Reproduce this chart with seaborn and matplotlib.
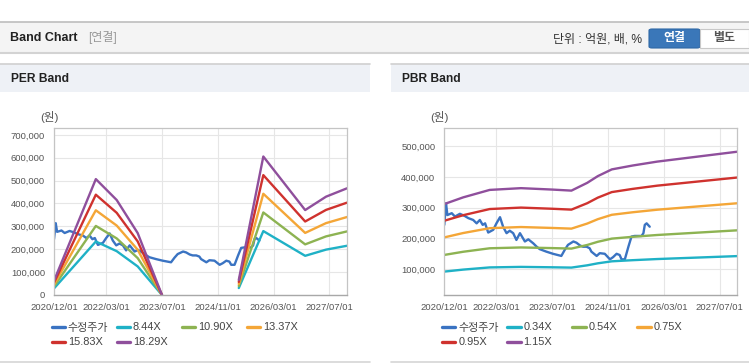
import matplotlib
matplotlib.use("Agg")
import numpy as np
import pandas as pd
import matplotlib.pyplot as plt
import matplotlib.dates as mdates
from matplotlib.ticker import FuncFormatter
from matplotlib.patches import Rectangle, FancyBboxPatch
import seaborn as sns

# ---------------- data ----------------
price_label = "수정주가"
price_dates = ["2020-12-01", "2020-12-16", "2020-12-28", "2021-02-04", "2021-03-04", "2021-04-16",
               "2021-05-28", "2021-06-28", "2021-08-10", "2021-09-09", "2021-10-07", "2021-11-01",
               "2021-11-22", "2021-12-19", "2022-02-01", "2022-03-01", "2022-04-01", "2022-04-28",
               "2022-05-28", "2022-06-25", "2022-07-25", "2022-08-22", "2022-09-22", "2022-11-04",
               "2022-12-04", "2023-01-16", "2023-02-15", "2023-03-14", "2023-05-10", "2023-07-07",
               "2023-09-18", "2023-10-18", "2023-11-15", "2024-01-01", "2024-01-28", "2024-02-28",
               "2024-03-25", "2024-04-25", "2024-05-22", "2024-06-06", "2024-07-22", "2024-08-18",
               "2024-10-01", "2024-11-15", "2024-12-12", "2025-01-12", "2025-02-08", "2025-02-24",
               "2025-03-25", "2025-04-25", "2025-05-22", "2025-06-18", "2025-08-18", "2025-09-03",
               "2025-09-15", "2025-10-01", "2025-10-28"]
price_values = [244000, 314000, 276000, 282000, 271000, 280000,
                273000, 266000, 260000, 249000, 260000, 244000,
                249000, 219000, 228000, 249000, 269000, 238000,
                217000, 225000, 217000, 195000, 217000, 190000,
                197000, 184000, 173000, 165000, 157000, 150000,
                143000, 163000, 179000, 190000, 186000, 177000,
                173000, 173000, 168000, 157000, 143000, 152000,
                150000, 132000, 139000, 150000, 146000, 132000,
                132000, 173000, 206000, 208000, 208000, 217000,
                244000, 249000, 238000]

# PER band (segment 1 ends at 2023-07, segment 2 starts 2025-05)
per_dates = ["2020-12-01", "2021-12-01", "2022-06-01", "2022-12-01", "2023-07-01",
             "2025-05-01", "2025-12-01", "2026-12-01", "2027-06-01", "2027-12-01"]
per_segments = [1, 1, 1, 1, 1, 2, 2, 2, 2, 2]
per_labels = ["8.44X", "10.90X", "13.37X", "15.83X", "18.29X"]
per_8_44 = [28700, 233800, 191600, 124900, 0, 30400, 279400, 171300, 198300, 215200]
per_10_90 = [37100, 301900, 247400, 161300, 0, 39200, 360800, 221300, 256200, 278000]
per_13_37 = [45500, 370300, 303500, 197900, 0, 48100, 442500, 271400, 314200, 340900]
per_15_83 = [53800, 438500, 359300, 234300, 0, 57000, 524000, 321300, 372000, 403700]
per_18_29 = [62200, 506600, 415200, 270700, 0, 65800, 605400, 371300, 429800, 466400]

# PBR band
pbr_dates = ["2020-12-01", "2021-05-15", "2022-01-01", "2022-10-01", "2023-07-01", "2023-12-15",
             "2024-05-01", "2024-08-01", "2024-12-01", "2025-06-01", "2026-01-01", "2027-12-01"]
pbr_labels = ["0.34X", "0.54X", "0.75X", "0.95X", "1.15X"]
pbr_0_34 = [92100, 98600, 105700, 107400, 106100, 105100, 112500, 119000, 125500, 129200, 132900, 142500]
pbr_0_54 = [146300, 156600, 167900, 170600, 168500, 166900, 178700, 189000, 199300, 205200, 211100, 226300]
pbr_0_75 = [203300, 217500, 233300, 237000, 234000, 231800, 248300, 262500, 276800, 285000, 293300, 314300]
pbr_0_95 = [257500, 275500, 295500, 300200, 296400, 293600, 314500, 332500, 350600, 361000, 371500, 398000]
pbr_1_15 = [311700, 333500, 357700, 363400, 358800, 355400, 380700, 402500, 424400, 437000, 449700, 481900]

x_ticks = ["2020-12-01", "2022-03-01", "2023-07-01", "2024-11-01", "2026-03-01", "2027-07-01"]
series_colors = ["#3a73c2", "#1fb1c6", "#8db352", "#f4a637", "#cf322e", "#8f4f9c"]

# ---------------- styling ----------------
sns.set_style("white")
plt.rcParams["font.family"] = ["Liberation Sans", "Noto Sans CJK KR"]

W, H = 749, 364
fig = plt.figure(figsize=(W / 100, H / 100), dpi=100)
fig.patch.set_facecolor("white")


def fx(px):
    return px / W


def fy(py):
    return 1 - py / H


def pt(px):
    return px * 0.72


# header bar
fig.patches.append(Rectangle((0, fy(52)), 1, (52 - 22) / H, transform=fig.transFigure,
                             facecolor="#f4f4f4", edgecolor="none", zorder=0))
fig.lines.append(plt.Line2D([0, 1], [fy(22), fy(22)], transform=fig.transFigure, color="#bdbdbd", lw=1.2))
fig.lines.append(plt.Line2D([0, 1], [fy(52.5), fy(52.5)], transform=fig.transFigure, color="#d3d3d3", lw=1.5))
fig.text(fx(10), fy(38), "Band Chart", fontsize=pt(12.5), fontweight="bold", color="#222222", va="center")
fig.text(fx(88), fy(38), "[연결]", fontsize=pt(12), color="#999999", va="center")
fig.text(fx(642), fy(40), "단위 : 억원, 배, %", fontsize=pt(12), color="#333333", va="center", ha="right")
fig.patches.append(FancyBboxPatch((fx(649), fy(48)), (700 - 649) / W, (48 - 29) / H,
                                  boxstyle="round,pad=0,rounding_size=0.004", transform=fig.transFigure,
                                  facecolor="#3a77b9", edgecolor="#2f68a6", lw=0.8))
fig.patches.append(Rectangle((fx(700), fy(48)), (749 - 700) / W, (48 - 29) / H, transform=fig.transFigure,
                             facecolor="white", edgecolor="#c8c8c8", lw=0.8))
fig.text(fx(674.5), fy(38.5), "연결", fontsize=pt(12), fontweight="bold", color="white", ha="center", va="center")
fig.text(fx(724), fy(38.5), "별도", fontsize=pt(12), fontweight="bold", color="#555555", ha="center", va="center")

# panel headers
for x0, x1, title in [(0, 370, "PER Band"), (391, 749, "PBR Band")]:
    fig.patches.append(Rectangle((fx(x0), fy(92)), (x1 - x0) / W, (92 - 64) / H, transform=fig.transFigure,
                                 facecolor="#eef1f6", edgecolor="none"))
    fig.lines.append(plt.Line2D([fx(x0), fx(x1)], [fy(64), fy(64)], transform=fig.transFigure,
                                color="#d0d0d0", lw=1.2))
    fig.lines.append(plt.Line2D([fx(x0), fx(x1)], [fy(362), fy(362)], transform=fig.transFigure,
                                color="#d6d6d6", lw=1.2))
    fig.text(fx(x0 + 11), fy(79), title, fontsize=pt(12), fontweight="bold", color="#222222", va="center")


def long_frame(band_dates, segs, band_lists, labels):
    rows = []
    for d, v in zip(price_dates, price_values):
        rows.append((pd.Timestamp(d), v, price_label, 0))
    for lab, vals in zip(labels, band_lists):
        for d, s, v in zip(band_dates, segs, vals):
            rows.append((pd.Timestamp(d), v, lab, s))
    return pd.DataFrame(rows, columns=["date", "value", "series", "seg"])


per_df = long_frame(per_dates, per_segments, [per_8_44, per_10_90, per_13_37, per_15_83, per_18_29], per_labels)
pbr_df = long_frame(pbr_dates, [1] * len(pbr_dates), [pbr_0_34, pbr_0_54, pbr_0_75, pbr_0_95, pbr_1_15],
                    pbr_labels)

ax_h = (295 - 128) / H
ax_per = fig.add_axes([fx(54), fy(295), (347 - 54) / W, ax_h])
ax_pbr = fig.add_axes([fx(444.3), fy(295), (737.3 - 444.3) / W, ax_h])

configs = [
    (ax_per, per_df, [price_label] + per_labels, (0, 730000), np.arange(0, 700001, 100000), 54),
    (ax_pbr, pbr_df, [price_label] + pbr_labels, (16000, 559000), np.arange(100000, 500001, 100000), 444.3),
]

for ax, df, names, ylim, yticks, left_px in configs:
    pal = dict(zip(names, series_colors))
    sns.lineplot(data=df, x="date", y="value", hue="series", units="seg", estimator=None,
                 hue_order=names, palette=pal, linewidth=1.7, ax=ax)
    handles, labels = ax.get_legend_handles_labels()
    if ax.get_legend() is not None:
        ax.get_legend().remove()
    ax.set_xlim(pd.Timestamp("2020-12-01"), pd.Timestamp("2027-12-01"))
    ax.set_ylim(*ylim)
    ax.set_yticks(yticks)
    ax.yaxis.set_major_formatter(FuncFormatter(lambda v, _: f"{int(round(v)):,}"))
    ax.set_xticks([pd.Timestamp(t) for t in x_ticks])
    ax.xaxis.set_major_formatter(mdates.DateFormatter("%Y/%m/%d"))
    ax.set_xlabel("")
    ax.set_ylabel("")
    ax.set_facecolor("white")
    ax.grid(True, color="#e6e6e6", lw=0.8)
    ax.set_axisbelow(True)
    for side in ["left", "top", "right"]:
        ax.spines[side].set_color("#c4c4c4")
        ax.spines[side].set_linewidth(0.9)
    ax.spines["bottom"].set_color("#a8a8a8")
    ax.spines["bottom"].set_linewidth(1.0)
    ax.tick_params(axis="both", length=4, width=0.8, color="#aaaaaa", labelsize=pt(9.5), labelcolor="#555555")
    ax.tick_params(axis="x", pad=1.5)
    ax.tick_params(axis="y", pad=2.4)

    # unit label
    fig.text(fx(left_px - 5), fy(117), "(원)", fontsize=pt(11.5), color="#555555", ha="center", va="center")

    # legend laid out as a 4-column grid (row-major)
    hmap = dict(zip(labels, handles))
    grid = [([names[0], names[4]], left_px - 2), ([names[1], names[5]], left_px + 63),
            ([names[2]], left_px + 128), ([names[3]], left_px + 193)]
    for col_names, xpx in grid:
        hs = [hmap[n] for n in col_names]
        leg = fig.legend(hs, col_names, loc="upper left", bbox_to_anchor=(fx(xpx), fy(322.5)),
                         bbox_transform=fig.transFigure, frameon=False, borderpad=0, borderaxespad=0,
                         handlelength=1.2, handletextpad=0.25, labelspacing=0.45, fontsize=pt(11))
        for t in leg.get_texts():
            t.set_color("#444444")
        for ln in leg.get_lines():
            ln.set_linewidth(2.4)

fig.savefig("out.png", dpi=100)
